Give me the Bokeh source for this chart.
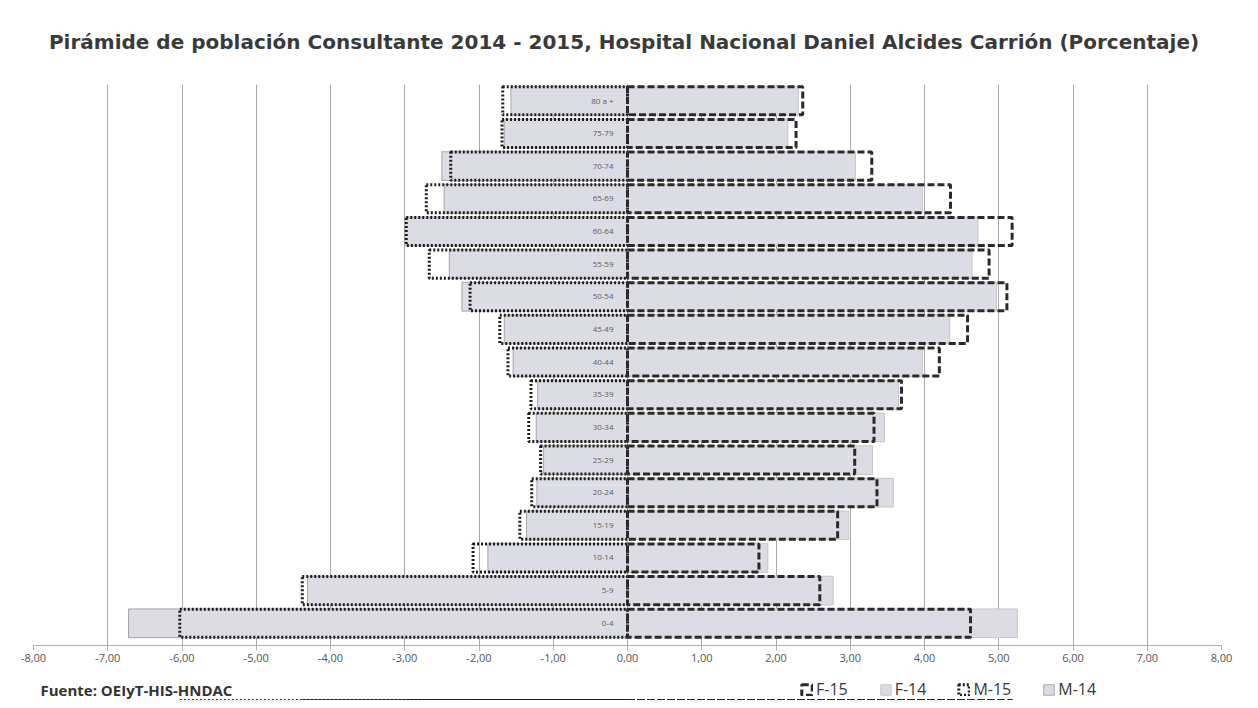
import numpy as np
from bokeh.plotting import figure
from bokeh.layouts import column
from bokeh.models import (Range1d, Legend, LegendItem, Label, CustomJSTickFormatter,
                          FixedTicker, ColumnDataSource)
from bokeh.core.properties import value
from bokeh.embed import file_html
from bokeh.resources import INLINE

ages = ["0-4", "5-9", "10-14", "15-19", "20-24", "25-29", "30-34", "35-39", "40-44",
        "45-49", "50-54", "55-59", "60-64", "65-69", "70-74", "75-79", "80 a +"]
m14 = [-6.72, -4.31, -1.88, -1.36, -1.22, -1.13, -1.23, -1.21, -1.54, -1.66, -2.23,
       -2.40, -3.00, -2.47, -2.50, -1.66, -1.57]
m15 = [-6.03, -4.38, -2.08, -1.45, -1.29, -1.17, -1.33, -1.30, -1.61, -1.72, -2.12,
       -2.67, -2.98, -2.71, -2.38, -1.69, -1.68]
f14 = [5.25, 2.77, 1.89, 2.98, 3.58, 3.30, 3.46, 3.65, 3.97, 4.34, 4.97, 4.64, 4.72,
       3.97, 3.07, 2.16, 2.30]
f15 = [4.62, 2.59, 1.77, 2.83, 3.36, 3.06, 3.32, 3.69, 4.20, 4.58, 5.11, 4.87, 5.18,
       4.35, 3.29, 2.27, 2.36]
x_ticks = list(range(-8, 9))
series_names = ["F-15", "F-14", "M-15", "M-14"]
series_cols = {"F-15": "f15", "F-14": "f14", "M-15": "m15", "M-14": "m14"}

title_text = ("Pirámide de población Consultante  2014 - 2015, Hospital Nacional "
              "Daniel Alcides Carrión (Porcentaje)")
source_text = "Fuente: OEIyT-HIS-HNDAC"

FONT = "Open Sans"
GREY = "#dcdce4"
STYLES = {
    "F-15": dict(fill_alpha=0, line_color="#2a2a2a", line_width=3, line_dash="7 3"),
    "F-14": dict(fill_color=GREY, line_color="#c4c4cc", line_width=1),
    "M-15": dict(fill_alpha=0, line_color="#1e1e1e", line_width=3, line_dash="2 2"),
    "M-14": dict(fill_color=GREY, line_color="#a4a4ac", line_width=1),
}

src = ColumnDataSource(dict(pos=list(range(len(ages))), age=ages,
                            m14=m14, m15=m15, f14=f14, f15=f15))

# ---------------- main chart ----------------
p = figure(width=1250, height=668, x_range=Range1d(-8, 8), y_range=Range1d(-0.68, 16.5),
           output_backend="svg", toolbar_location=None,
           min_border_left=33, min_border_right=29, min_border_top=84, min_border_bottom=23,
           title=title_text)
p.background_fill_color = "white"
p.border_fill_color = "white"
p.outline_line_color = None

p.title.text_font = "DejaVu Sans"
p.title.text_font_size = "20px"
p.title.text_font_style = "bold"
p.title.text_color = "#3a3a3a"
p.title.align = "center"
p.title.vertical_align = "top"
p.title.standoff = 58

p.hbar(y="pos", left=0, right="m14", height=0.88, source=src, **STYLES["M-14"])
p.hbar(y="pos", left=0, right="f14", height=0.88, source=src, **STYLES["F-14"])
p.hbar(y="pos", left=0, right="m15", height=0.86, source=src, **STYLES["M-15"])
p.hbar(y="pos", left=0, right="f15", height=0.86, source=src, **STYLES["F-15"])

p.text(x=0, y="pos", text="age", x_offset=-14, text_align="right", text_baseline="middle",
       text_font_size="8px", text_color="#606060", text_font=value(FONT), source=src)

p.xaxis.ticker = FixedTicker(ticks=x_ticks)
p.xgrid.ticker = FixedTicker(ticks=x_ticks)
p.xaxis.formatter = CustomJSTickFormatter(code="return tick.toFixed(2).replace('.', ',');")
p.xaxis.major_label_text_font = FONT
p.xaxis.major_label_text_font_size = "11px"
p.xaxis.major_label_text_color = "#555555"
p.xaxis.axis_line_color = "#b0b0b0"
p.xaxis.major_tick_line_color = "#b0b0b0"
p.xaxis.major_tick_out = 5
p.xaxis.major_tick_in = 0
p.xaxis.minor_tick_line_color = None
p.xaxis.major_label_standoff = 3
p.xgrid.grid_line_color = "#a8a8a8"
p.ygrid.grid_line_color = None
p.yaxis.visible = False

# ---------------- footer strip: source note + legend ----------------
# the footer's y range lies far from the data, so its bars only feed the legend swatches
foot = figure(width=1250, height=32, x_range=Range1d(-8, 8), y_range=Range1d(40, 41),
              output_backend="svg", toolbar_location=None,
              x_axis_type=None, y_axis_type=None,
              min_border_left=0, min_border_right=0, min_border_top=0, min_border_bottom=0)
foot.background_fill_color = "white"
foot.border_fill_color = "white"
foot.outline_line_color = None
foot.xgrid.visible = False
foot.ygrid.visible = False

items = []
for name in series_names:
    r = foot.hbar(y="pos", left=0, right=series_cols[name], height=0.86, source=src,
                  **STYLES[name])
    items.append(LegendItem(label=name, renderers=[r]))

legend = Legend(items=items, location=(767, 0), orientation="horizontal",
                label_text_font=FONT, label_text_font_size="16px", label_text_color="#383838",
                glyph_width=13, glyph_height=13, spacing=31, label_standoff=3,
                padding=0, margin=0, background_fill_alpha=0, border_line_alpha=0)
foot.add_layout(legend, "center")

foot.add_layout(Label(x=7, y=11, x_units="screen", y_units="screen", text=source_text,
                      text_font=FONT, text_font_size="15px", text_font_style="bold",
                      text_color="#333333", text_baseline="middle"))

layout = column(p, foot, spacing=0)
open("out.html", "w").write(file_html(layout, INLINE))
